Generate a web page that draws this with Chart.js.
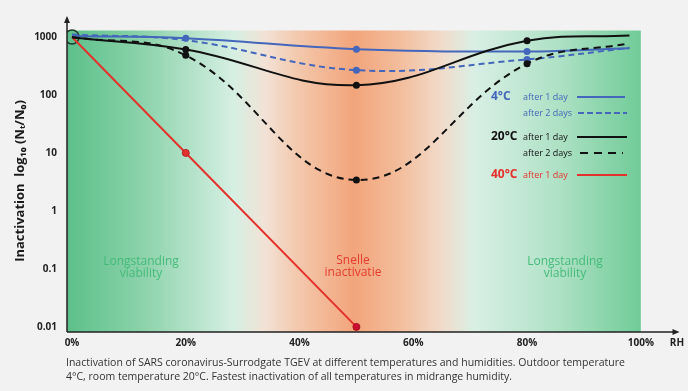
<!DOCTYPE html>
<html>
<head>
<meta charset="utf-8">
<script src="https://cdn.jsdelivr.net/npm/chart.js@4/dist/chart.umd.min.js"></script>
<style>
  html, body { margin: 0; padding: 0; background: #f2f2f2; }
  #wrap { position: relative; width: 688px; height: 391px; }
  canvas { display: block; }
</style>
</head>
<body>
<div id="wrap"><canvas id="c" width="688" height="391"></canvas></div>
<script>
// ---- data ----
const rhLevels   = [0, 20, 50, 80, 98];          // relative humidity, %
const blue1Day   = [1040, 950, 617, 560, 640];   // 4°C after 1 day
const blue2Days  = [1100, 880, 268, 410, 650];   // 4°C after 2 days
const black1Day  = [980, 610, 147, 860, 1060];   // 20°C after 1 day
const black2Days = [1000, 482, 3.4, 347, 780];   // 20°C after 2 days
const rhRed      = [0, 20, 50];
const red1Day    = [1000, 10, 0.01];             // 40°C after 1 day
const startPoint = [{x: 0, y: 1000}];
const xTickValues = [0, 20, 40, 60, 80, 100];
const yTickValues = [0.01, 0.1, 1, 10, 100, 1000];

const BLUE = '#4467bb', BLACK = '#111111', RED = '#e5312c';
const pts = (xs, ys) => xs.map((x, i) => ({x, y: ys[i]}));

Chart.defaults.font.family = "'Open Sans', 'DejaVu Sans', sans-serif";

const decor = {
  id: 'decor',
  beforeDatasetsDraw(chart) {
    const {ctx, scales: {x, y}} = chart;
    const l = x.getPixelForValue(x.min), r = x.getPixelForValue(100);
    const t = y.getPixelForValue(1293), b = y.getPixelForValue(y.min);
    const g = ctx.createLinearGradient(l, 0, r, 0);
    g.addColorStop(0.00, '#5cc08a');
    g.addColorStop(0.14, '#8fd4ad');
    g.addColorStop(0.29, '#d6efe3');
    g.addColorStop(0.345, '#f2e2d6');
    g.addColorStop(0.40, '#f3c9ae');
    g.addColorStop(0.50, '#f2a57b');
    g.addColorStop(0.58, '#f3bd9c');
    g.addColorStop(0.655, '#f1dccc');
    g.addColorStop(0.71, '#d9efe5');
    g.addColorStop(0.86, '#ade1c4');
    g.addColorStop(1.00, '#70cb98');
    ctx.save();
    ctx.fillStyle = g;
    ctx.fillRect(l, t, r - l, b - t);
    // region labels
    ctx.textAlign = 'center';
    ctx.textBaseline = 'middle';
    ctx.font = "12px 'Open Sans'";
    ctx.fillStyle = '#45bb7a';
    ctx.fillText('Longstanding', 141, 262);
    ctx.fillText('viability', 141, 274);
    ctx.fillText('Longstanding', 565, 262);
    ctx.fillText('viability', 565, 274);
    ctx.fillStyle = '#e53a2e';
    ctx.fillText('Snelle', 353, 261);
    ctx.fillText('inactivatie', 353, 273);
    ctx.restore();
  },
  afterDraw(chart) {
    const {ctx, chartArea: ca} = chart;
    ctx.save();
    // axes with arrows
    ctx.strokeStyle = '#222'; ctx.fillStyle = '#222'; ctx.lineWidth = 1.5;
    ctx.beginPath();
    ctx.moveTo(ca.left, ca.bottom); ctx.lineTo(ca.left, ca.top + 4);
    ctx.moveTo(ca.left, ca.bottom); ctx.lineTo(ca.right - 4, ca.bottom);
    ctx.stroke();
    ctx.beginPath();
    ctx.moveTo(ca.left, ca.top); ctx.lineTo(ca.left - 3, ca.top + 7); ctx.lineTo(ca.left + 3, ca.top + 7); ctx.closePath(); ctx.fill();
    ctx.beginPath();
    ctx.moveTo(ca.right, ca.bottom); ctx.lineTo(ca.right - 7, ca.bottom - 3); ctx.lineTo(ca.right - 7, ca.bottom + 3); ctx.closePath(); ctx.fill();
    // RH label
    ctx.font = "bold 10px 'Open Sans'";
    ctx.textAlign = 'center'; ctx.textBaseline = 'middle';
    ctx.fillText('RH', 677, 343);
    // y axis title
    ctx.save();
    ctx.translate(20, 181);
    ctx.rotate(-Math.PI / 2);
    ctx.font = "bold 13px 'Open Sans'";
    ctx.fillStyle = '#1a1a1a';
    ctx.textAlign = 'center';
    ctx.fillText('Inactivation  log\u2081\u2080 (N\u209C/N\u2080)', 0, 0);
    ctx.restore();
    // legend
    const rows = [
      {temp: '4°C', text: 'after 1 day', y: 97, color: BLUE, dash: [], x1: 577, x2: 625},
      {temp: '', text: 'after 2 days', y: 113, color: BLUE, dash: [6, 3], x1: 578, x2: 627},
      {temp: '20°C', text: 'after 1 day', y: 137, color: BLACK, dash: [], x1: 577, x2: 627},
      {temp: '', text: 'after 2 days', y: 153, color: BLACK, dash: [8, 6], x1: 580, x2: 623},
      {temp: '40°C', text: 'after 1 day', y: 175, color: RED, dash: [], x1: 577, x2: 627},
    ];
    ctx.textAlign = 'left'; ctx.textBaseline = 'middle';
    rows.forEach(r => {
      ctx.fillStyle = r.color;
      if (r.temp) { ctx.font = "bold 12px 'Open Sans'"; ctx.fillText(r.temp, 491, r.y); }
      ctx.font = "9px 'Open Sans'";
      ctx.fillText(r.text, 523, r.y);
      ctx.strokeStyle = r.color; ctx.lineWidth = 2; ctx.setLineDash(r.dash);
      ctx.beginPath(); ctx.moveTo(r.x1, r.y); ctx.lineTo(r.x2, r.y); ctx.stroke();
    });
    ctx.setLineDash([]);
    // caption
    ctx.fillStyle = '#333';
    ctx.font = "10.5px 'Open Sans'";
    ctx.fillText('Inactivation of SARS coronavirus-Surrodgate TGEV at different temperatures and humidities. Outdoor temperature', 66, 363);
    ctx.fillText('4°C, room temperature 20°C. Fastest inactivation of all temperatures in midrange humidity.', 66, 377);
    ctx.restore();
  }
};

new Chart(document.getElementById('c'), {
  type: 'line',
  data: {
    datasets: [
      {label: '20°C after 2 days', data: pts(rhLevels, black2Days), borderColor: BLACK, backgroundColor: BLACK,
       borderWidth: 2, borderDash: [7, 5], tension: 0.4, pointBorderWidth: 0, pointRadius: [0, 3.5, 3.5, 3.5, 0]},
      {label: '20°C after 1 day', data: pts(rhLevels, black1Day), borderColor: BLACK, backgroundColor: BLACK,
       borderWidth: 2, tension: 0.4, pointBorderWidth: 0, pointRadius: [0, 3.5, 3.5, 3.5, 0]},
      {label: '4°C after 2 days', data: pts(rhLevels, blue2Days), borderColor: BLUE, backgroundColor: BLUE,
       borderWidth: 2, borderDash: [6, 4], tension: 0.4, pointBorderWidth: 0, pointRadius: [0, 0, 3.5, 3.5, 0]},
      {label: '4°C after 1 day', data: pts(rhLevels, blue1Day), borderColor: BLUE, backgroundColor: BLUE,
       borderWidth: 2, tension: 0.4, pointBorderWidth: 0, pointRadius: [0, 3.5, 3.5, 3.5, 0]},
      {label: '40°C after 1 day', data: pts(rhRed, red1Day), borderColor: RED,
       backgroundColor: ['#e5312c', '#e5312c', '#c8102e'], pointBorderColor: ['#e5312c', '#b8202a', '#b00d24'],
       borderWidth: 2, tension: 0, pointBorderWidth: 1, pointRadius: [0, 3.5, 3.5]},
      {label: 'start', data: startPoint, showLine: false, pointRadius: 7, pointBorderWidth: 1.5,
       pointBorderColor: '#1e3b2c', pointBackgroundColor: 'rgba(0,0,0,0)'}
    ]
  },
  options: {
    responsive: false,
    animation: false,
    devicePixelRatio: 1,
    layout: {padding: {left: 0, top: 5, right: 7, bottom: 0}},
    plugins: {legend: {display: false}, tooltip: {enabled: false}},
    scales: {
      x: {
        type: 'linear', min: -0.88, max: 106.8,
        grid: {display: false, drawTicks: false}, border: {display: false},
        afterBuildTicks: s => { s.ticks = xTickValues.map(v => ({value: v})); },
        afterFit: s => { s.height = 59; },
        ticks: {padding: 5, color: '#222', font: {size: 10, weight: 'bold'}, maxRotation: 0, callback: v => v + '%'}
      },
      y: {
        type: 'logarithmic', min: 0.00816, max: 2300,
        grid: {display: false, drawTicks: false}, border: {display: false},
        afterBuildTicks: s => { s.ticks = yTickValues.map(v => ({value: v})); },
        afterFit: s => { s.width = 67; },
        ticks: {padding: 10, color: '#222', font: {size: 10, weight: 'bold'}, callback: v => String(v)}
      }
    }
  },
  plugins: [decor]
});
</script>
</body>
</html>
